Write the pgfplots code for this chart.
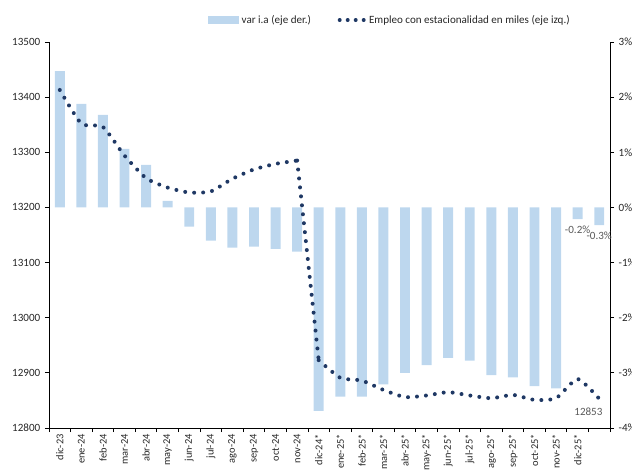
\documentclass[border=0pt]{standalone}
\usepackage{fontspec}
\setmainfont{Carlito}
\usepackage{pgfplots}
\pgfplotsset{compat=1.18}
\definecolor{barblue}{HTML}{BDD7EE}
\definecolor{navy}{HTML}{1F3864}
\definecolor{lblgray}{HTML}{595959}

\pgfplotstableread{
x bar emp
0 2.47 13413
1 1.88 13352
2 1.68 13346
3 1.06 13294
4 0.77 13253
5 0.12 13236
6 -0.35 13227
7 -0.60 13229
8 -0.73 13252
9 -0.71 13269
10 -0.75 13279
11 -0.80 13285
12 -3.69 12923
13 -3.43 12891
14 -3.43 12886
15 -3.21 12869
16 -3.00 12856
17 -2.86 12859
18 -2.73 12865
19 -2.78 12859
20 -3.04 12854
21 -3.08 12860
22 -3.24 12851
23 -3.28 12854
24 -0.21 12889
25 -0.32 12853
}\datatable

\begin{document}
\begin{tikzpicture}
\path[use as bounding box] (0,0) rectangle (474pt,354pt);
\pgfplotsset{
 base/.style={
  scale only axis, width=420.75pt, height=289.5pt,
  at={(36.75pt,33pt)}, anchor=south west,
  xmin=-0.5, xmax=25.5,
  /pgf/number format/assume math mode=true,
  scaled ticks=false,
  tick label style={font=\fontsize{8.3}{9}\selectfont, color=black!85},
  axis line style={black, line width=0.6pt},
  tick style={black, line width=0.6pt},
  tick align=outside,
  major tick length=3pt,
  clip=false,
 },
 empline/.style={navy, line width=3pt, line cap=round, dash pattern=on 0pt off 6.75pt},
}
\begin{axis}[base,
  ymin=-4, ymax=3, ytick={-4,-3,...,3},
  axis y line*=right, axis x line*=bottom,
  yticklabel={\pgfmathprintnumber{\tick}\%},
  xtick={0,...,24},
  xticklabels={dic-23,ene-24,feb-24,mar-24,abr-24,may-24,jun-24,jul-24,ago-24,sep-24,oct-24,nov-24,dic-24*,ene-25*,feb-25*,mar-25*,abr-25*,may-25*,jun-25*,jul-25*,ago-25*,sep-25*,oct-25*,nov-25*,dic-25*},
  x tick label style={rotate=90, anchor=east, font=\fontsize{7.8}{9}\selectfont, inner sep=1.5pt},
  x tick style={draw=none},
  minor xtick={-0.5,0.5,...,25.5},
  minor x tick style={draw=black, line width=0.6pt},
  minor tick length=3pt,
]
\addplot[ybar, bar width=0.46, fill=barblue, draw=none] table[x=x, y=bar] {\datatable};
\node[font=\fontsize{8.3}{9}\selectfont, color=lblgray, anchor=north] at (axis cs:24,-0.25) {-0.2\%};
\node[font=\fontsize{8.3}{9}\selectfont, color=lblgray, anchor=north] at (axis cs:25,-0.36) {-0.3\%};
\end{axis}
\begin{axis}[base,
  ymin=12800, ymax=13500, ytick={12800,12900,...,13500},
  axis y line*=left, axis x line=none,
  /pgf/number format/set thousands separator={},
  legend style={at={(0.608,1.057)}, anchor=center, draw=none, fill=none,
    legend columns=2, font=\fontsize{8.3}{9}\selectfont, text=black!85,
    /tikz/every even column/.append style={column sep=18pt}},
]
\addlegendimage{legend image code/.code={\fill[barblue] (-8pt,-2.5pt) rectangle (15pt,2.5pt);}}
\addlegendentry{var i.a (eje der.)}
\addlegendimage{legend image code/.code={\draw[navy, line width=3pt, line cap=round, dash pattern=on 0pt off 6pt] (0pt,0pt) -- (18.5pt,0pt);}}
\addlegendentry{Empleo con estacionalidad en miles (eje izq.)}
\addplot[empline, smooth, tension=0.35, restrict x to domain=0:11, forget plot] table[x=x, y=emp] {\datatable};
\addplot[empline, restrict x to domain=11:12, forget plot] table[x=x, y=emp] {\datatable};
\addplot[empline, smooth, tension=0.35, restrict x to domain=12:25, forget plot] table[x=x, y=emp] {\datatable};
\node[font=\fontsize{8.3}{9}\selectfont, color=lblgray] at (axis cs:24.5,12830) {12853};
\end{axis}
\end{tikzpicture}
\end{document}
